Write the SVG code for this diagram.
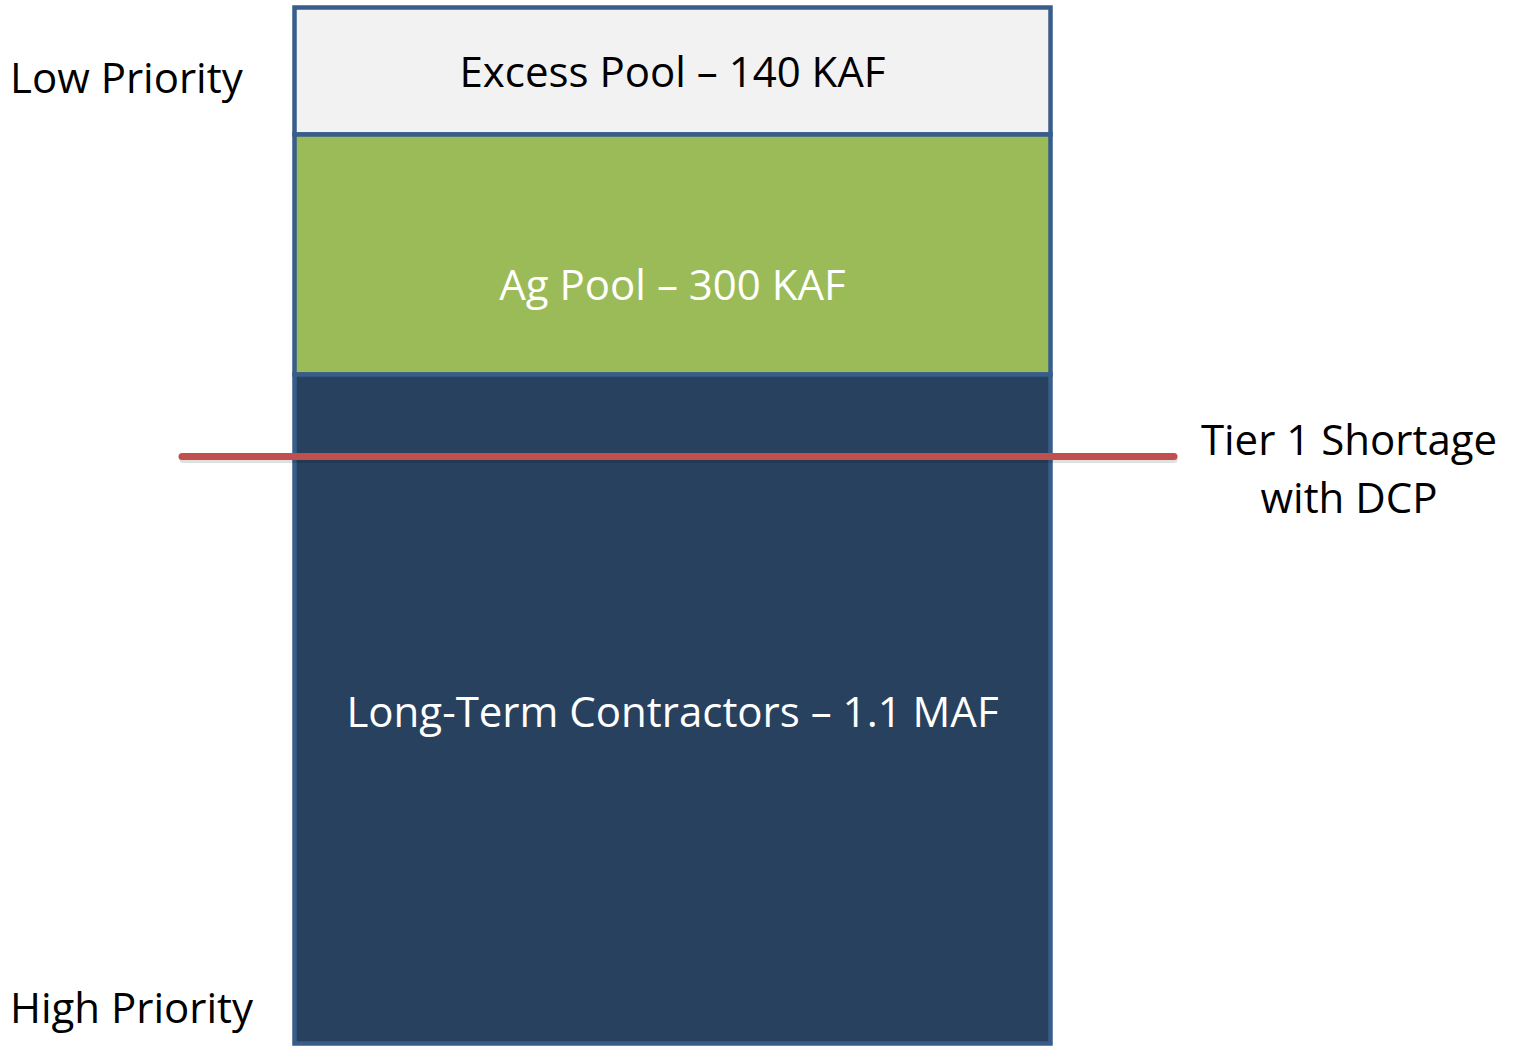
<svg xmlns="http://www.w3.org/2000/svg" width="1513" height="1046" viewBox="0 0 1513 1046">
<style>
.lbl{font-family:"Open Sans","Liberation Sans",sans-serif;font-size:42px;fill:#000}
.ctr{text-anchor:middle}
.w{fill:#fff}
.box{stroke:#385D8A;stroke-width:4.5}
</style>
<rect width="1513" height="1046" fill="#fff"/>
<g id="excess-pool">
<rect class="box" x="294.5" y="7.5" width="756" height="127" fill="#F2F2F2"/>
<text class="lbl ctr" x="672.5" y="87">Excess Pool – 140 KAF</text>
</g>
<g id="ag-pool">
<rect class="box" x="294.5" y="134.5" width="756" height="240" fill="#9BBB59"/>
<text class="lbl ctr w" x="672.5" y="300">Ag Pool – 300 KAF</text>
</g>
<g id="long-term">
<rect class="box" x="294.5" y="374.5" width="756" height="669" fill="#27415F"/>
<text class="lbl ctr w" x="672.5" y="727">Long-Term Contractors – 1.1 MAF</text>
</g>
<g id="connectors">
<line x1="183" y1="459.5" x2="1174" y2="459.5" stroke="#000" stroke-opacity="0.12" stroke-width="7" stroke-linecap="round"/>
<line x1="182" y1="456.5" x2="1174" y2="456.5" stroke="#C0504D" stroke-width="7" stroke-linecap="round"/>
</g>
<g id="tier1-label">
<text class="lbl ctr" x="1349" y="455">Tier 1 Shortage</text>
<text class="lbl ctr" x="1349" y="513">with DCP</text>
</g>
<g id="low-priority">
<text class="lbl" x="10" y="93">Low Priority</text>
</g>
<g id="high-priority">
<text class="lbl" x="10" y="1023">High Priority</text>
</g>
</svg>
